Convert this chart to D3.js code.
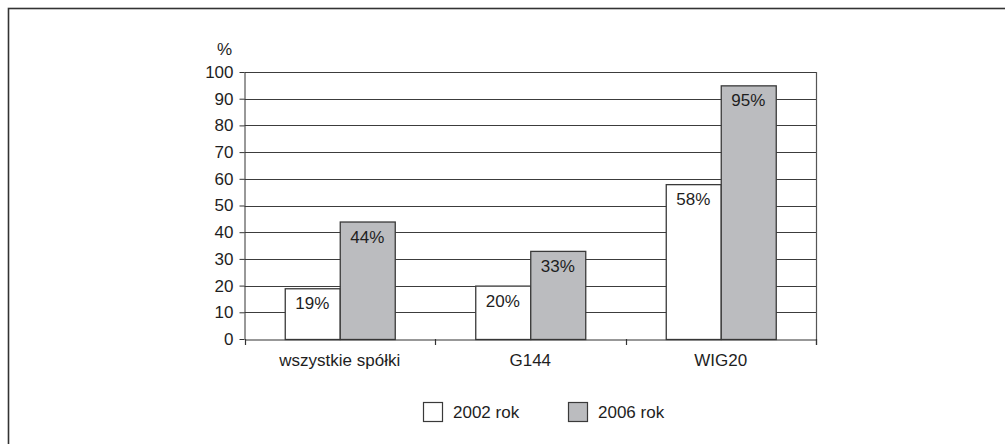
<!DOCTYPE html>
<html>
<head>
<meta charset="utf-8">
<script src="https://cdn.jsdelivr.net/npm/d3@7"></script>
<style>
  html, body { margin: 0; padding: 0; background: #fff; }
  svg { display: block; }
  text { font-family: "Liberation Sans", Arial, sans-serif; fill: #1e1e1e; }
</style>
</head>
<body>
<svg id="chart" width="1005" height="444"></svg>
<script>
// Share of companies (%) in each group, 2002 vs 2006
const categories = ["wszystkie spółki", "G144", "WIG20"];
const seriesNames = ["2002 rok", "2006 rok"];
const values2002 = [19, 20, 58];
const values2006 = [44, 33, 95];
const yTicks = [0, 10, 20, 30, 40, 50, 60, 70, 80, 90, 100];
const yUnit = "%";

const seriesValues = [values2002, values2006];
const fills = ["#ffffff", "#bbbcbf"];
const stroke = "#3a3a3a";
const fontSize = "17px";

const svg = d3.select("#chart");

// outer frame (right and bottom edges fall outside the canvas)
svg.append("rect")
  .attr("x", 8.5).attr("y", 8.5)
  .attr("width", 1010).attr("height", 450)
  .attr("fill", "none").attr("stroke", "#333").attr("stroke-width", 1.6);

const plot = { left: 244.5, right: 816, top: 72, bottom: 339 };

const x0 = d3.scaleBand().domain(categories).range([plot.left, plot.right]).padding(0);
const innerPad = (x0.bandwidth() / 55 - 2) / 2;
const x1 = d3.scaleBand().domain(d3.range(seriesNames.length))
  .range([0, x0.bandwidth()]).paddingInner(0).paddingOuter(innerPad);
const y = d3.scaleLinear().domain([0, 100]).range([plot.bottom, plot.top]);

// horizontal gridlines
svg.append("g").selectAll("line")
  .data(yTicks.filter(d => d > 0))
  .join("line")
  .attr("x1", plot.left).attr("x2", plot.right)
  .attr("y1", d => Math.round(y(d)) + 0.5).attr("y2", d => Math.round(y(d)) + 0.5)
  .attr("stroke", "#3c3c3c").attr("stroke-width", 1);

// right edge of the plot area
svg.append("line")
  .attr("x1", plot.right + 0.5).attr("x2", plot.right + 0.5)
  .attr("y1", plot.top).attr("y2", plot.bottom + 6)
  .attr("stroke", "#555").attr("stroke-width", 1.2);

// y axis
const yAxis = d3.axisLeft(y).tickValues(yTicks).tickSize(5).tickPadding(6).tickSizeOuter(0);
const gy = svg.append("g")
  .attr("transform", `translate(${plot.left},0)`)
  .call(yAxis);
gy.select(".domain").attr("stroke", "#333");
gy.selectAll(".tick line").attr("stroke", "#333");
gy.selectAll(".tick text")
  .style("font-family", '"Liberation Sans", Arial, sans-serif')
  .style("font-size", fontSize).attr("fill", "#1e1e1e");

svg.append("text")
  .attr("x", 232).attr("y", 55)
  .attr("text-anchor", "end")
  .style("font-size", fontSize)
  .text(yUnit);

// bars
const groups = svg.append("g").selectAll("g")
  .data(categories)
  .join("g")
  .attr("transform", d => `translate(${x0(d)},0)`);

groups.selectAll("rect")
  .data((c, i) => seriesValues.map((vals, s) => ({ s, v: vals[i] })))
  .join("rect")
  .attr("x", d => x1(d.s) + 0.5)
  .attr("y", d => y(d.v) + 0.5)
  .attr("width", x1.bandwidth())
  .attr("height", d => y(0) - y(d.v))
  .attr("fill", d => fills[d.s])
  .attr("stroke", stroke).attr("stroke-width", 1.3);

groups.selectAll("text.val")
  .data((c, i) => seriesValues.map((vals, s) => ({ s, v: vals[i] })))
  .join("text")
  .attr("class", "val")
  .attr("x", d => x1(d.s) + x1.bandwidth() / 2)
  .attr("y", d => y(d.v) + 21)
  .attr("text-anchor", "middle")
  .style("font-size", fontSize)
  .text(d => d.v + "%");

// x axis line and category separators
const xAxis = d3.axisBottom(x0).tickSize(0).tickPadding(14).tickSizeOuter(0);
const gx = svg.append("g")
  .attr("transform", `translate(0,${plot.bottom + 0.5})`)
  .call(xAxis);
gx.select(".domain").attr("stroke", "#333").attr("stroke-width", 1.2);
gx.selectAll(".tick text")
  .style("font-family", '"Liberation Sans", Arial, sans-serif')
  .style("font-size", fontSize).attr("fill", "#1e1e1e");

const bounds = categories.map(c => x0(c)).concat([plot.right]);
svg.append("g").selectAll("line")
  .data(bounds)
  .join("line")
  .attr("x1", d => Math.round(d) + 0.5).attr("x2", d => Math.round(d) + 0.5)
  .attr("y1", plot.bottom).attr("y2", plot.bottom + 6)
  .attr("stroke", "#333").attr("stroke-width", 1.2);

// legend
const legendX = [423, 568];
const legend = svg.append("g").selectAll("g")
  .data(seriesNames)
  .join("g")
  .attr("transform", (d, i) => `translate(${legendX[i]},402)`);
legend.append("rect")
  .attr("x", 0.5).attr("y", 0.5)
  .attr("width", 19).attr("height", 19)
  .attr("fill", (d, i) => fills[i])
  .attr("stroke", stroke).attr("stroke-width", 1.2);
legend.append("text")
  .attr("x", 30).attr("y", 16)
  .style("font-size", fontSize)
  .text(d => d);
</script>
</body>
</html>
